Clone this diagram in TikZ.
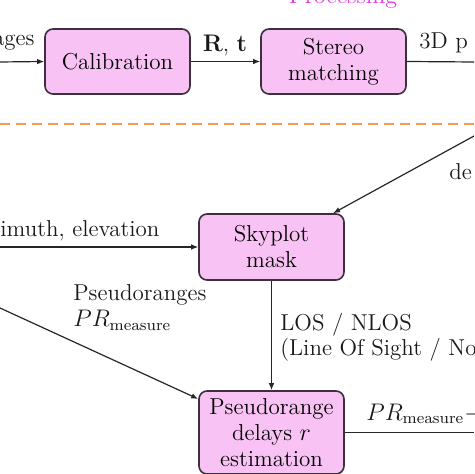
\documentclass[tikz,border=0pt]{standalone}
\usetikzlibrary{arrows.meta}
\definecolor{boxfill}{RGB}{249,194,244}
\definecolor{boxdraw}{RGB}{60,48,60}
\definecolor{dashorange}{RGB}{238,160,82}
\definecolor{procmag}{RGB}{228,56,228}
\begin{document}
\begin{tikzpicture}[x=0.5pt,y=-0.5pt,
  font=\fontsize{11.5}{13}\selectfont,
  procbox/.style={draw=boxdraw, fill=boxfill, rounded corners=4pt, line width=0.8pt,
    minimum width=72.5pt, align=center, inner sep=0pt},
  flow/.style={-{Latex[length=3.5pt,width=2.8pt]}, line width=0.6pt, draw=black!85},
  plain/.style={line width=0.6pt, draw=black!85},
  lbl/.style={inner sep=0pt, text=black!90}]
\useasboundingbox (0,0) rectangle (474,474);
\clip (0,0) rectangle (474,474);
% title
\node[lbl, anchor=base, text=procmag, font=\fontsize{12}{13}\selectfont] (title) at (343,4) {Processing};
% boxes
\node[procbox, minimum height=32.5pt] (cal) at (117.5,61.5) {Calibration};
\node[procbox, minimum height=32.5pt] (ster) at (333.5,61.5) {Stereo\\matching};
\node[procbox, minimum height=33pt] (sky) at (271.5,247) {Skyplot\\mask};
\node[procbox, minimum height=41.5pt] (pse) at (271.5,432.5) {Pseudorange\\delays $r$\\estimation};
% free ends
\coordinate (inL) at (0,62);
\coordinate (outR) at (474,62);
\coordinate (dTop) at (474,136);
\coordinate (azL) at (0,247);
\coordinate (prL) at (0,308);
\coordinate (outPR) at (474,432.5);
% top row connectors
\draw[flow] (inL) -- (cal.west);
\draw[flow] (cal.east) -- (ster.west);
\draw[plain] (ster.east) -- (outR);
\node[lbl, anchor=base east] (ages) at (35,46) {ages};
\node[lbl, anchor=base] (rt) at (225,52) {$\mathbf{R}$, $\mathbf{t}$};
\node[lbl, anchor=base west] (threed) at (419,49) {3D p};
% dashed separator
\coordinate (sepL) at (0,124);
\coordinate (sepR) at (474,124);
\draw[dashorange, line width=1pt, dash pattern=on 5pt off 3pt] (sepL) -- (sepR);
% lower part
\draw[flow] (dTop) -- (sky);
\node[lbl, anchor=base west] (de) at (449,180) {de};
\draw[flow] (azL) -- (sky.west);
\node[lbl, anchor=base west] (az) at (0,237) {imuth, elevation};
\draw[flow] (sky.south) -- (pse.north);
\node[lbl, anchor=base west] (psr) at (73,300) {Pseudoranges};
\node[lbl, anchor=base west] (prm) at (73,327) {$PR_{\mathrm{measure}}$};
\node[lbl, anchor=base west] (los) at (280,330) {LOS / NLOS};
\node[lbl, anchor=base west] (los2) at (280,355) {(Line Of Sight / No};
\draw[flow] (prL) -- (pse);
\draw[plain] (pse.east) -- (outPR);
\node[lbl, anchor=base west] (prm2) at (366,420) {$PR_{\mathrm{measure}} -$};
\end{tikzpicture}
\end{document}
